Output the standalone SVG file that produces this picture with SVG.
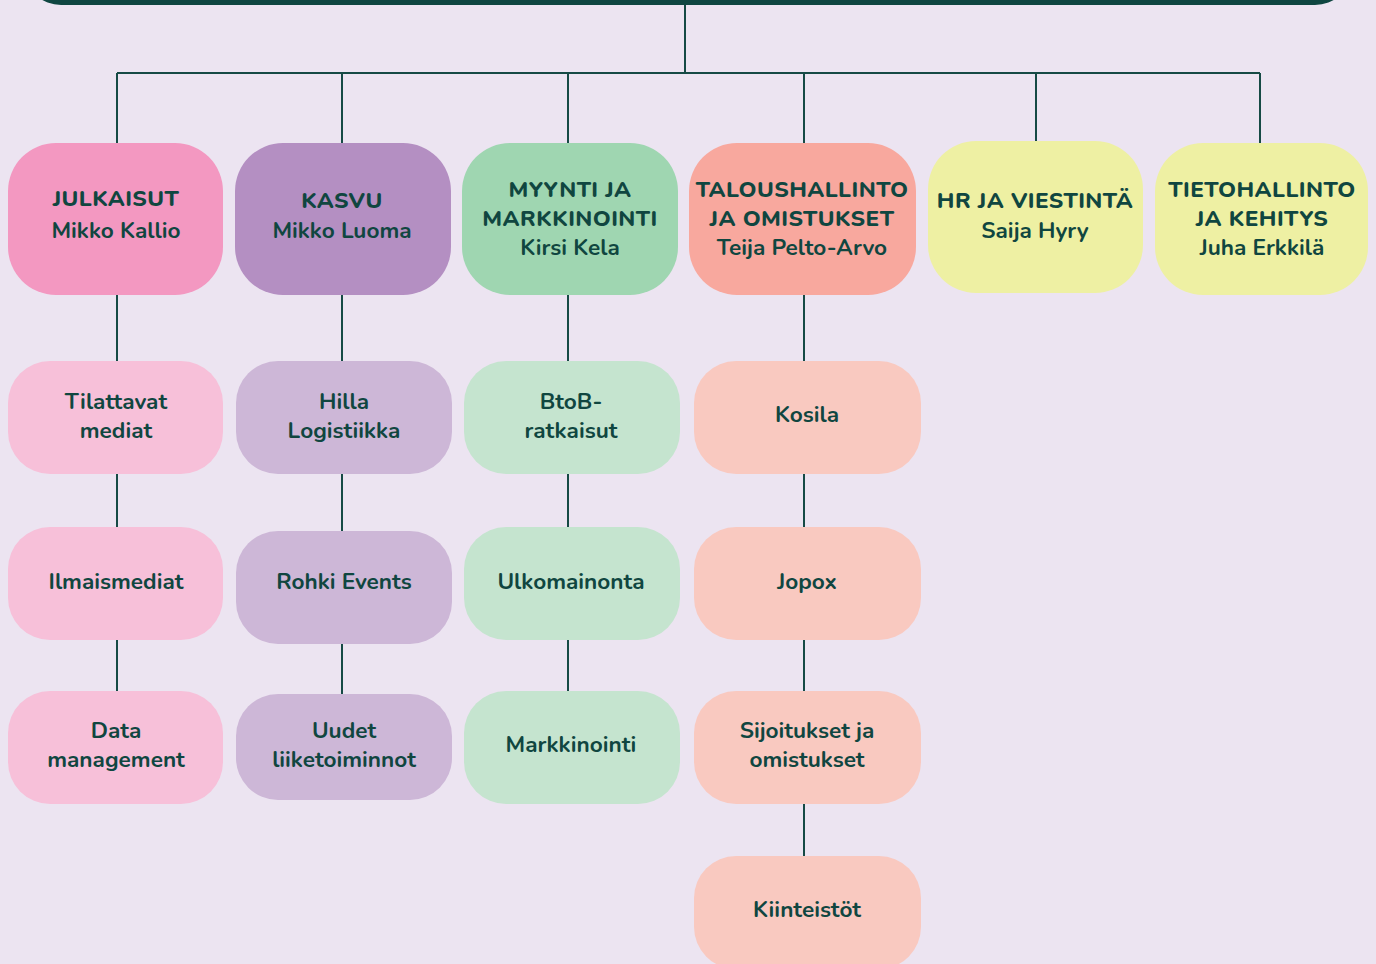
<svg xmlns="http://www.w3.org/2000/svg" width="1376" height="964" viewBox="0 0 1376 964">
<style>
.t{font-family:Nunito,Lato,"Noto Sans",sans-serif;font-weight:700;font-size:22.6px;fill:#104640;text-anchor:middle}
.h{font-weight:800;letter-spacing:0.45px}
.c{stroke:#164a45;stroke-width:2;fill:none}
</style>
<rect x="0" y="0" width="1376" height="964" fill="#ece4f1"/>
<rect id="top" x="26" y="-60" width="1324" height="65" rx="35" fill="#0f4641"/>
<g id="connectors" class="c">
<path d="M685 5V73M117 73H1260M117 73V143M342 73V143M568 73V143M804 73V143M1036 73V141M1260 73V143"/>
<path d="M117 295V361M117 474V527M117 640V691"/>
<path d="M342 295V361M342 474V531M342 644V694"/>
<path d="M568 295V361M568 474V527M568 640V691"/>
<path d="M804 295V361M804 474V527M804 640V691M804 804V856"/>
</g>
<g id="julkaisut"><rect x="8" y="143" width="215" height="152" rx="48" fill="#f398c1"/><text class="t"><tspan class="h" x="116" y="206">JULKAISUT</tspan><tspan x="116" y="238">Mikko Kallio</tspan></text></g>
<g id="kasvu"><rect x="235" y="143" width="216" height="152" rx="48" fill="#b48fc2"/><text class="t"><tspan class="h" x="342" y="208">KASVU</tspan><tspan x="342" y="238">Mikko Luoma</tspan></text></g>
<g id="myynti"><rect x="462" y="143" width="216" height="152" rx="48" fill="#9fd6b1"/><text class="t"><tspan class="h" x="570" y="197">MYYNTI JA</tspan><tspan class="h" x="570" y="226">MARKKINOINTI</tspan><tspan x="570" y="255">Kirsi Kela</tspan></text></g>
<g id="talous"><rect x="689" y="143" width="227" height="152" rx="48" fill="#f8a89e"/><text class="t"><tspan class="h" x="802" y="197">TALOUSHALLINTO</tspan><tspan class="h" x="802" y="226">JA OMISTUKSET</tspan><tspan x="802" y="255">Teija Pelto-Arvo</tspan></text></g>
<g id="hr"><rect x="928" y="141" width="215" height="152" rx="48" fill="#eef0a3"/><text class="t"><tspan class="h" x="1035" y="208">HR JA VIESTINTÄ</tspan><tspan x="1035" y="238">Saija Hyry</tspan></text></g>
<g id="tieto"><rect x="1155" y="143" width="213" height="152" rx="48" fill="#eef0a3"/><text class="t"><tspan class="h" x="1262" y="197">TIETOHALLINTO</tspan><tspan class="h" x="1262" y="226">JA KEHITYS</tspan><tspan x="1262" y="255">Juha Erkkilä</tspan></text></g>

<g id="tilattavat"><rect x="8" y="361" width="215" height="113" rx="42" fill="#f7c0d9"/><text class="t"><tspan x="116" y="409">Tilattavat</tspan><tspan x="116" y="438">mediat</tspan></text></g>
<g id="ilmaismediat"><rect x="8" y="527" width="215" height="113" rx="42" fill="#f7c0d9"/><text class="t" x="116" y="589">Ilmaismediat</text></g>
<g id="data"><rect x="8" y="691" width="215" height="113" rx="42" fill="#f7c0d9"/><text class="t"><tspan x="116" y="738">Data</tspan><tspan x="116" y="767">management</tspan></text></g>

<g id="hilla"><rect x="236" y="361" width="216" height="113" rx="42" fill="#cdb7d7"/><text class="t"><tspan x="344" y="409">Hilla</tspan><tspan x="344" y="438">Logistiikka</tspan></text></g>
<g id="rohki"><rect x="236" y="531" width="216" height="113" rx="42" fill="#cdb7d7"/><text class="t" x="344" y="589">Rohki Events</text></g>
<g id="uudet"><rect x="236" y="694" width="216" height="106" rx="42" fill="#cdb7d7"/><text class="t"><tspan x="344" y="738">Uudet</tspan><tspan x="344" y="767">liiketoiminnot</tspan></text></g>

<g id="btob"><rect x="464" y="361" width="216" height="113" rx="42" fill="#c5e4cf"/><text class="t"><tspan x="571" y="409">BtoB-</tspan><tspan x="571" y="438">ratkaisut</tspan></text></g>
<g id="ulkomainonta"><rect x="464" y="527" width="216" height="113" rx="42" fill="#c5e4cf"/><text class="t" x="571" y="589">Ulkomainonta</text></g>
<g id="markkinointi"><rect x="464" y="691" width="216" height="113" rx="42" fill="#c5e4cf"/><text class="t" x="571" y="752">Markkinointi</text></g>

<g id="kosila"><rect x="694" y="361" width="227" height="113" rx="42" fill="#f9c9c0"/><text class="t" x="807" y="422">Kosila</text></g>
<g id="jopox"><rect x="694" y="527" width="227" height="113" rx="42" fill="#f9c9c0"/><text class="t" x="807" y="589">Jopox</text></g>
<g id="sijoitukset"><rect x="694" y="691" width="227" height="113" rx="42" fill="#f9c9c0"/><text class="t"><tspan x="807" y="738">Sijoitukset ja</tspan><tspan x="807" y="767">omistukset</tspan></text></g>
<g id="kiinteistot"><rect x="694" y="856" width="227" height="113" rx="42" fill="#f9c9c0"/><text class="t" x="807" y="917">Kiinteistöt</text></g>
</svg>
